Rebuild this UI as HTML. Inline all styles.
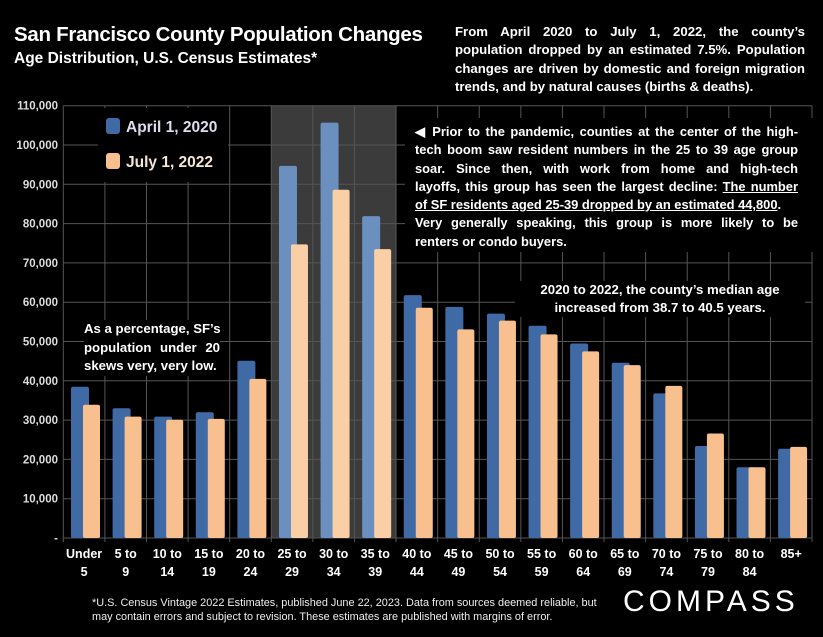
<!DOCTYPE html>
<html><head><meta charset="utf-8"><style>
html,body{margin:0;padding:0;background:#000;}
body{width:823px;height:637px;overflow:hidden;position:relative;font-family:"Liberation Sans",sans-serif;color:#fff;}
.t{position:absolute;font-weight:bold;}
.j{text-align:justify;text-align-last:justify;white-space:nowrap;}
.l{white-space:nowrap;}
</style></head><body>
<svg id="chart" width="823" height="637" style="position:absolute;left:0;top:0" xmlns="http://www.w3.org/2000/svg"></svg>

<div class="t" style="left:14px;top:23px;font-size:20.5px;letter-spacing:-0.3px;">San Francisco County Population Changes</div>
<div class="t" style="left:14px;top:50px;font-size:15.5px;">Age Distribution, U.S. Census Estimates*</div>

<div class="t" style="left:455px;top:23px;width:350px;font-size:13.2px;line-height:18.3px;background:#000;">
<div class="j">From April 2020 to July 1, 2022, the county’s</div>
<div class="j">population dropped by an estimated 7.5%. Population</div>
<div class="j">changes are driven by domestic and foreign migration</div>
<div class="l">trends, and by natural causes (births &amp; deaths).</div>
</div>

<div class="t" style="left:405px;top:118px;width:408px;height:134px;padding:5px 0 0 10px;box-sizing:border-box;font-size:12.9px;line-height:18.3px;background:#000;"><div style="width:383px">
<div class="j">◀ Prior to the pandemic, counties at the center of the high-</div>
<div class="j">tech boom saw resident numbers in the 25 to 39 age group</div>
<div class="j">soar. Since then, with work from home and high-tech</div>
<div class="j">layoffs, this group has seen the largest decline: <u>The number</u></div>
<div class="l"><u>of SF residents aged 25-39 dropped by an estimated 44,800</u>.</div>
<div class="j">Very generally speaking, this group is more likely to be</div>
<div class="l">renters or condo buyers.</div>
</div></div>

<div class="t" style="left:515px;top:281px;width:290px;text-align:center;font-size:13.2px;line-height:18px;background:#000;">2020 to 2022, the county’s median age<br>increased from 38.7 to 40.5 years.</div>

<div class="t" style="left:84px;top:320px;width:136px;font-size:13.2px;line-height:18.5px;background:#000;">
<div class="j">As a percentage, SF’s</div>
<div class="j">population under 20</div>
<div class="l">skews very, very low.</div>
</div>

<div style="position:absolute;left:98px;top:108px;width:130px;height:74px;background:#000;">
 <div style="position:absolute;left:8px;top:10px;font-size:15.5px;font-weight:bold;color:#dde;white-space:nowrap"><span style="display:inline-block;width:14px;height:16px;background:#3f6aa6;border-radius:3px;vertical-align:-2px;margin-right:6px"></span>April 1, 2020</div>
 <div style="position:absolute;left:8px;top:45px;font-size:15.5px;font-weight:bold;color:#f5e6d6;white-space:nowrap"><span style="display:inline-block;width:14px;height:16px;background:#f9c08f;border-radius:3px;vertical-align:-2px;margin-right:6px"></span>July 1, 2022</div>
</div>

<div style="position:absolute;left:92px;top:596px;font-size:10.9px;line-height:14px;color:#eee;white-space:nowrap;">*U.S. Census Vintage 2022 Estimates, published June 22, 2023. Data from sources deemed reliable, but<br>may contain errors and subject to revision. These estimates are published with margins of error.</div>
<div style="position:absolute;left:623px;top:585px;font-size:30px;letter-spacing:4px;color:#fff;">COMPASS</div>

<script>
const categories = ["Under|5","5 to|9","10 to|14","15 to|19","20 to|24","25 to|29","30 to|34","35 to|39","40 to|44","45 to|49","50 to|54","55 to|59","60 to|64","65 to|69","70 to|74","75 to|79","80 to|84","85+|"];
const pop2020 = [38500,33000,30900,32000,45100,94700,105700,81900,61800,58800,57100,54000,49500,44600,36800,23400,18000,22700];
const pop2022 = [33900,30900,30100,30300,40500,74700,88600,73500,58600,53100,55300,51800,47500,44000,38700,26600,18000,23200];
const yTicks = [0,10000,20000,30000,40000,50000,60000,70000,80000,90000,100000,110000];
const highlighted = [5,6,7];

const svg = document.getElementById('chart');
const NS = 'http://www.w3.org/2000/svg';
const X0 = 63.3, X1 = 812, Y0 = 538, Y1 = 105.7, YMAX = 110000;
const bw = (X1 - X0) / categories.length;
const y = v => Y0 - (v / YMAX) * (Y0 - Y1);
const x = i => X0 + i * bw;
const FN = 'Liberation Sans, sans-serif';
function mk(tag, attrs){ const e = document.createElementNS(NS, tag); for (const k in attrs) e.setAttribute(k, attrs[k]); svg.appendChild(e); return e; }

const band = mk('rect', {x: x(highlighted[0]), y: Y1, width: bw*highlighted.length, height: Y0-Y1, fill:'#3b3b3b'});



yTicks.forEach(v => {
  const gl = mk('line', {x1: X0, x2: X1, y1: y(v), y2: y(v), stroke:'#555', 'stroke-width':1});
  
  
  const t = mk('text', {x: 58, y: y(v)+4, 'text-anchor':'end', 'font-size':11.5, 'font-weight':'bold', fill:'#ddd', 'font-family':FN});
  t.textContent = v === 0 ? '-' : v.toLocaleString('en-US');
  
  
});
for (let i = 0; i <= categories.length; i++) {
  const vl = mk('line', {x1: x(i), x2: x(i), y1: Y1, y2: Y0+4, stroke:'#555', 'stroke-width':1});
  
  
}

categories.forEach((c, i) => {
  const hi = highlighted.includes(i);
  const b1 = mk('rect', {x: x(i)+7.7, y: y(pop2020[i]), width: 18, height: Y0 - y(pop2020[i]), rx: 2, fill: hi ? '#6b8fbf' : '#3f6aa6'});
  
  
  const b2 = mk('rect', {x: x(i)+19.7, y: y(pop2022[i]), width: 17, height: Y0 - y(pop2022[i]), rx: 2, fill: hi ? '#fbcfa6' : '#f9c08f'});
  
  
  const parts = c.split('|');
  parts.forEach((p, k) => {
    if (!p) return;
    const t = mk('text', {x: x(i)+bw/2, y: 558 + k*18, 'text-anchor':'middle', 'font-size':12.5, 'font-weight':'bold', fill:'#fff', 'font-family':FN});
    t.textContent = p;
    
    
  });
});
</script>
</body></html>
